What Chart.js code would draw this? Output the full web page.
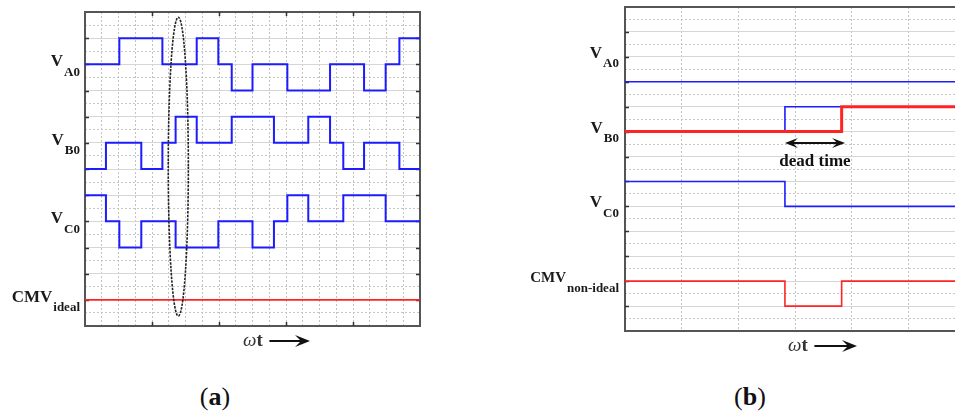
<!DOCTYPE html>
<html>
<head>
<meta charset="utf-8">
<script src="https://cdn.jsdelivr.net/npm/chart.js@4.4.1/dist/chart.umd.min.js"></script>
<style>
  body { margin: 0; width: 955px; height: 414px; overflow: hidden; background: #fff; position: relative; }
  canvas { position: absolute; top: 0; }
  #chartA { left: 0; }
  #chartB { left: 520px; }
  .cap { position: absolute; top: 384px; width: 100px; text-align: center; line-height: 1;
         font-family: "Liberation Serif", serif; font-size: 26px; color: #111; }
</style>
</head>
<body>
<canvas id="chartA" width="440" height="360"></canvas>
<canvas id="chartB" width="520" height="360"></canvas>
<div class="cap" style="left:165px">(<b>a</b>)</div>
<div class="cap" style="left:700px">(<b>b</b>)</div>

<script>
// ---- panel (a): ideal switching, x in grid divisions (0..20), y in grid rows (0..12)
const aA0x = [0, 2.05, 4.62, 6.67, 7.96, 8.76, 10.0, 12.08, 14.63, 16.66, 17.95, 18.77, 20];
const aA0y = [10, 11, 10, 11, 10, 9, 10, 9, 10, 9, 10, 11, 11];
const aB0x = [0, 1.25, 3.36, 4.62, 5.41, 6.67, 8.76, 11.28, 13.33, 14.63, 15.42, 16.66, 18.77, 20];
const aB0y = [6, 7, 6, 7, 8, 7, 8, 7, 8, 7, 6, 7, 6, 6];
const aC0x = [0, 1.25, 2.05, 3.36, 5.41, 7.96, 10.0, 11.28, 12.08, 13.33, 15.42, 17.95, 20];
const aC0y = [5, 4, 3, 4, 3, 4, 3, 4, 5, 4, 5, 4, 4];
const aCMVx = [0, 20];
const aCMVy = [1, 1];
const aLabels = ['V', 'V', 'V', 'CMV'];
const aSubs = ['A0', 'B0', 'C0', 'ideal'];
const aLabelRows = [10, 7, 4, 1];

// ---- panel (b): one transition with dead time
const bA0x = [-0.5, 6.5];
const bA0y = [10, 10];
const bB0x = [-0.5, 2.32, 6.5];
const bB0y = [8, 9, 9];
const bB0realX = [-0.5, 3.32, 6.5];
const bB0realY = [8, 9, 9];
const bC0x = [-0.5, 2.32, 6.5];
const bC0y = [6, 5, 5];
const bCMVx = [-0.5, 2.32, 3.32, 6.5];
const bCMVy = [2, 1, 2, 2];
const bLabels = ['V', 'V', 'V', 'CMV'];
const bSubs = ['A0', 'B0', 'C0', 'non-ideal'];
const bLabelRows = [11, 8, 5, 2];

const BLUE = '#1c1cff';
const RED = '#ff2424';
const FRAME = '#555';

function stepSet(xs, ys, color, width) {
  return {
    data: xs.map((x, i) => ({ x: x, y: ys[i] })),
    borderColor: color,
    borderWidth: width,
    stepped: true,
    pointRadius: 0,
    fill: false
  };
}

function gridScales(xmin, xmax, ymax) {
  const hideInt = c => (c.tick && Math.abs(c.tick.value % 1) < 1e-6) ? 'rgba(0,0,0,0)' : '#c6c6c6';
  return {
    x: { type: 'linear', min: xmin, max: xmax,
         ticks: { display: false, stepSize: 1, autoSkip: false },
         grid: { color: '#c2c2c2', drawTicks: false },
         border: { color: FRAME, width: 2, dash: [2, 2] } },
    xTop: { type: 'linear', position: 'top', min: xmin, max: xmax,
            ticks: { display: false }, grid: { display: false, drawTicks: false },
            border: { color: FRAME, width: 2 } },
    y: { min: 0, max: ymax,
         ticks: { display: false, stepSize: 1, autoSkip: false },
         grid: { color: '#d6d6d6', drawTicks: false },
         border: { color: FRAME, width: 2 } },
    yMinor: { position: 'right', min: 0, max: ymax,
              ticks: { display: false, stepSize: 0.5, autoSkip: false },
              grid: { color: hideInt, drawTicks: false },
              border: { color: FRAME, width: 2, dash: [2, 2] } }
  };
}

function drawLabel(ctx, right, y, main, sub, mainSize, subSize) {
  ctx.fillStyle = '#1a1a1a';
  ctx.textAlign = 'right';
  ctx.textBaseline = 'alphabetic';
  ctx.font = 'bold ' + subSize + 'px "Liberation Serif"';
  const sw = ctx.measureText(sub).width;
  ctx.fillText(sub, right, y + 11.5);
  ctx.font = 'bold ' + mainSize + 'px "Liberation Serif"';
  ctx.fillText(main, right - sw - 1, y + 2);
}

function arrowHead(ctx, x, y, dir, len, half) {
  ctx.beginPath();
  ctx.moveTo(x, y);
  ctx.lineTo(x - dir * len, y - half);
  ctx.lineTo(x - dir * len * 0.6, y);
  ctx.lineTo(x - dir * len, y + half);
  ctx.closePath();
  ctx.fill();
}

function drawOmega(ctx, x, baseline, arrowX1) {
  ctx.fillStyle = '#333';
  ctx.textAlign = 'left';
  ctx.font = 'italic 19px "Liberation Serif"';
  ctx.fillText('ω', x, baseline);
  const w = ctx.measureText('ω').width;
  ctx.font = 'bold 19px "Liberation Serif"';
  ctx.fillText('t', x + w, baseline);
  const ay = baseline - 5;
  const ax0 = x + w + 13;
  ctx.strokeStyle = '#111';
  ctx.fillStyle = '#111';
  ctx.lineWidth = 1.8;
  ctx.beginPath();
  ctx.moveTo(ax0, ay);
  ctx.lineTo(arrowX1 - 6, ay);
  ctx.stroke();
  arrowHead(ctx, arrowX1, ay, 1, 15, 6);
}

function inwardTicks(chart, rows, cols, ticksRight, ticksTopBottom) {
  const ctx = chart.ctx, a = chart.chartArea;
  const ys = chart.scales.y, xs = chart.scales.x;
  ctx.save();
  ctx.strokeStyle = '#333';
  ctx.lineWidth = 1.5;
  ctx.beginPath();
  rows.forEach(v => {
    const py = Math.round(ys.getPixelForValue(v)) + 0.5;
    ctx.moveTo(a.left, py); ctx.lineTo(a.left + 4, py);
    if (ticksRight) { ctx.moveTo(a.right, py); ctx.lineTo(a.right - 4, py); }
  });
  if (ticksTopBottom) {
    cols.forEach(u => {
      const px = Math.round(xs.getPixelForValue(u)) + 0.5;
      ctx.moveTo(px, a.top); ctx.lineTo(px, a.top + 4);
      ctx.moveTo(px, a.bottom); ctx.lineTo(px, a.bottom - 4);
    });
  }
  ctx.stroke();
  ctx.restore();
}

// ---------- chart (a)
new Chart(document.getElementById('chartA').getContext('2d'), {
  type: 'line',
  data: {
    datasets: [
      stepSet(aCMVx, aCMVy, RED, 1.6),
      stepSet(aA0x, aA0y, BLUE, 2),
      stepSet(aB0x, aB0y, BLUE, 2),
      stepSet(aC0x, aC0y, BLUE, 2)
    ]
  },
  options: {
    responsive: false,
    animation: false,
    layout: { padding: { left: 85, top: 12, right: 20, bottom: 34 } },
    plugins: { legend: { display: false }, tooltip: { enabled: false } },
    scales: gridScales(0, 20, 12)
  },
  plugins: [{
    id: 'decorA',
    beforeDatasetsDraw(chart) {
      inwardTicks(chart, [1, 2, 3, 4, 5, 6, 7, 8, 9, 10, 11], [4, 8, 12, 16], true, true);
    },
    afterDraw(chart) {
      const ctx = chart.ctx, a = chart.chartArea;
      const x = chart.scales.x, y = chart.scales.y;
      ctx.save();
      // ellipse around the switching instant
      ctx.strokeStyle = '#222';
      ctx.lineWidth = 1.6;
      ctx.setLineDash([2.5, 1.2]);
      const cx = x.getPixelForValue(5.57), cy = y.getPixelForValue(6.09);
      const rx = x.getPixelForValue(6.17) - cx, ry = cy - y.getPixelForValue(11.8);
      ctx.beginPath();
      ctx.ellipse(cx, cy, rx, ry, 0, 0, Math.PI * 2);
      ctx.stroke();
      ctx.setLineDash([]);
      aLabels.forEach((t, i) => {
        drawLabel(ctx, a.left - 5, y.getPixelForValue(aLabelRows[i]), t, aSubs[i], 17, 13);
      });
      drawOmega(ctx, a.left + 158, a.bottom + 20, a.left + 225);
      ctx.restore();
    }
  }]
});

// ---------- chart (b)
new Chart(document.getElementById('chartB').getContext('2d'), {
  type: 'line',
  data: {
    datasets: [
      stepSet(bB0realX, bB0realY, RED, 3),
      stepSet(bCMVx, bCMVy, RED, 1.6),
      stepSet(bA0x, bA0y, BLUE, 1.6),
      stepSet(bB0x, bB0y, BLUE, 1.6),
      stepSet(bC0x, bC0y, BLUE, 1.6)
    ]
  },
  options: {
    responsive: false,
    animation: false,
    layout: { padding: { left: 105, top: 7, right: 18, bottom: 29 } },
    plugins: { legend: { display: false }, tooltip: { enabled: false } },
    scales: gridScales(-0.5, 6.5, 13)
  },
  plugins: [{
    id: 'decorB',
    beforeDatasetsDraw(chart) {
      inwardTicks(chart, [1, 2, 3, 4, 5, 6, 7, 8, 9, 10, 11, 12], [], false, false);
    },
    afterDraw(chart) {
      const ctx = chart.ctx, a = chart.chartArea;
      const x = chart.scales.x, y = chart.scales.y;
      ctx.save();
      bLabels.forEach((t, i) => {
        drawLabel(ctx, a.left - 6, y.getPixelForValue(bLabelRows[i]) - 1, t, bSubs[i], i === 3 ? 15 : 17, 13);
      });
      // dead time arrow
      const x1 = x.getPixelForValue(2.32), x2 = x.getPixelForValue(3.38);
      const ay = y.getPixelForValue(7.54);
      ctx.strokeStyle = '#111';
      ctx.fillStyle = '#111';
      ctx.lineWidth = 2;
      ctx.beginPath();
      ctx.moveTo(x1 + 6, ay);
      ctx.lineTo(x2 - 6, ay);
      ctx.stroke();
      arrowHead(ctx, x1, ay, -1, 13, 5);
      arrowHead(ctx, x2, ay, 1, 13, 5);
      ctx.font = 'bold 17px "Liberation Serif"';
      ctx.textAlign = 'center';
      ctx.fillText('dead time', x.getPixelForValue(2.85), y.getPixelForValue(6.63));
      drawOmega(ctx, a.left + 163, a.bottom + 20, a.left + 232);
      ctx.restore();
    }
  }]
});
</script>
</body>
</html>
